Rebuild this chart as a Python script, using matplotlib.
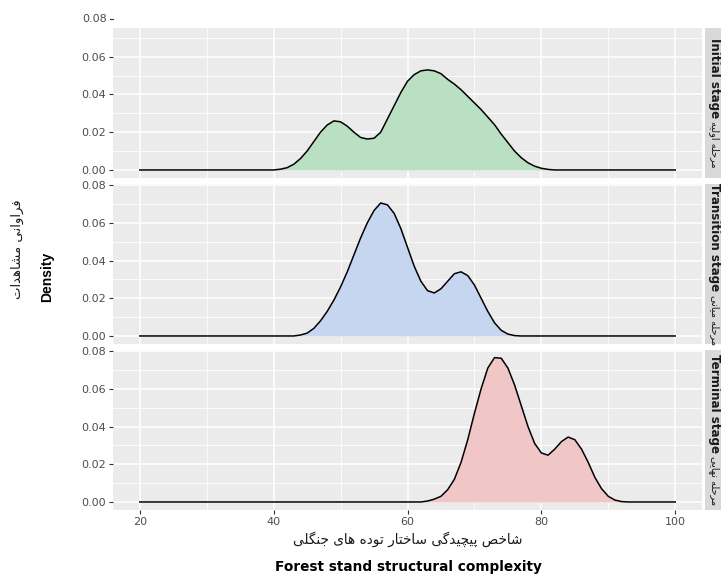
import matplotlib
matplotlib.use("Agg")
import matplotlib.pyplot as plt
from matplotlib.ticker import MultipleLocator, FormatStrFormatter

# ---------------- data ----------------
stages_en = ["Initial stage", "Transition stage", "Terminal stage"]
stages_fa = ["مرحله اولیه", "مرحله میانی", "مرحله نهایی"]
fill_colors = ["#b9e0c2", "#c6d6f1", "#f0c6c6"]

initial_x = [20, 40, 41, 42, 43, 44, 45, 46, 47, 48, 49, 50, 51, 52, 53, 54, 55, 56, 57,
             58, 59, 60, 61, 62, 63, 64, 65, 66, 67, 68, 69, 70, 71, 72, 73, 74, 75, 76,
             77, 78, 79, 80, 81, 82, 100]
initial_y = [0, 0, 0.0004, 0.0012, 0.003, 0.006, 0.010, 0.015, 0.020, 0.0238, 0.026,
             0.0255, 0.0232, 0.020, 0.0172, 0.0164, 0.0168, 0.020, 0.027, 0.034, 0.041,
             0.047, 0.0505, 0.0525, 0.053, 0.0525, 0.051, 0.048, 0.0455, 0.0425, 0.039,
             0.0355, 0.032, 0.028, 0.024, 0.019, 0.0145, 0.010, 0.0065, 0.0038, 0.002,
             0.0009, 0.0003, 0, 0]

transition_x = [20, 43, 44, 45, 46, 47, 48, 49, 50, 51, 52, 53, 54, 55, 56, 57, 58, 59,
                60, 61, 62, 63, 64, 65, 66, 67, 68, 69, 70, 71, 72, 73, 74, 75, 76, 77, 100]
transition_y = [0, 0, 0.0005, 0.0015, 0.004, 0.008, 0.013, 0.019, 0.026, 0.034, 0.043,
                0.052, 0.060, 0.0665, 0.0705, 0.0695, 0.065, 0.057, 0.047, 0.037, 0.029,
                0.024, 0.0228, 0.025, 0.029, 0.033, 0.034, 0.032, 0.027, 0.020, 0.013,
                0.007, 0.003, 0.001, 0.0002, 0, 0]

terminal_x = [20, 62, 63, 64, 65, 66, 67, 68, 69, 70, 71, 72, 73, 74, 75, 76, 77, 78, 79,
              80, 81, 82, 83, 84, 85, 86, 87, 88, 89, 90, 91, 92, 93, 100]
terminal_y = [0, 0, 0.0005, 0.0015, 0.003, 0.0065, 0.012, 0.021, 0.033, 0.047, 0.060,
              0.071, 0.0765, 0.0762, 0.071, 0.062, 0.051, 0.040, 0.031, 0.026, 0.0248,
              0.028, 0.032, 0.0344, 0.033, 0.028, 0.021, 0.013, 0.007, 0.003, 0.001,
              0.0002, 0, 0]

x_ticks = [20, 40, 60, 80, 100]
y_ticks = [0.00, 0.02, 0.04, 0.06, 0.08]

ylabel_fa = "فراوانی مشاهدات"
ylabel_en = "Density"
xlabel_fa = "شاخص پیچیدگی ساختار توده های جنگلی"
xlabel_en = "Forest stand structural complexity"

# ------------- simple Persian shaping (matplotlib has no shaping) -------------
FORMS = {
    'ا': ('\uFE8D', '\uFE8E', None, None),
    'د': ('\uFEA9', '\uFEAA', None, None),
    'ر': ('\uFEAD', '\uFEAE', None, None),
    'و': ('\uFEED', '\uFEEE', None, None),
    'ت': ('\uFE95', '\uFE96', '\uFE97', '\uFE98'),
    'ج': ('\uFE9D', '\uFE9E', '\uFE9F', '\uFEA0'),
    'ح': ('\uFEA1', '\uFEA2', '\uFEA3', '\uFEA4'),
    'خ': ('\uFEA5', '\uFEA6', '\uFEA7', '\uFEA8'),
    'س': ('\uFEB1', '\uFEB2', '\uFEB3', '\uFEB4'),
    'ش': ('\uFEB5', '\uFEB6', '\uFEB7', '\uFEB8'),
    'ص': ('\uFEB9', '\uFEBA', '\uFEBB', '\uFEBC'),
    'ف': ('\uFED1', '\uFED2', '\uFED3', '\uFED4'),
    'ل': ('\uFEDD', '\uFEDE', '\uFEDF', '\uFEE0'),
    'م': ('\uFEE1', '\uFEE2', '\uFEE3', '\uFEE4'),
    'ن': ('\uFEE5', '\uFEE6', '\uFEE7', '\uFEE8'),
    'ه': ('\uFEE9', '\uFEEA', '\uFEEB', '\uFEEC'),
    'ی': ('\uFBFC', '\uFBFD', '\uFBFE', '\uFBFF'),
    'پ': ('\uFB56', '\uFB57', '\uFB58', '\uFB59'),
    'چ': ('\uFB7A', '\uFB7B', '\uFB7C', '\uFB7D'),
    'گ': ('\uFB92', '\uFB93', '\uFB94', '\uFB95'),
    'ک': ('\uFB8E', '\uFB8F', '\uFB90', '\uFB91'),
}


def shape(text):
    out = []
    n = len(text)
    for i, c in enumerate(text):
        if c not in FORMS:
            out.append(c)
            continue
        prev = text[i - 1] if i > 0 else ''
        nxt = text[i + 1] if i < n - 1 else ''
        jp = prev in FORMS and FORMS[prev][2] is not None
        jn = FORMS[c][2] is not None and nxt in FORMS
        iso, fin, ini, med = FORMS[c]
        if jp and jn:
            out.append(med)
        elif jp:
            out.append(fin)
        elif jn:
            out.append(ini)
        else:
            out.append(iso)
    return ''.join(out)[::-1]


FA_FONT = ['DejaVu Sans']
EN_FONT = ['DejaVu Sans']

# ---------------- figure ----------------
W, H = 721, 576
fig = plt.figure(figsize=(W / 100, H / 100), dpi=100)
fig.patch.set_facecolor("white")

L_PX, R_PX = 113, 702
# (top_px, bottom_px, ylim)
panels = [
    (28.0, 177.9, (-0.0042, 0.0752)),
    (184.1, 343.9, (-0.0042, 0.0805)),
    (350.1, 509.9, (-0.0042, 0.0805)),
]
series = [(initial_x, initial_y), (transition_x, transition_y), (terminal_x, terminal_y)]

tick_col = "#4D4D4D"
axes = []
for i, ((top, bot, ylim), (xs, ys)) in enumerate(zip(panels, series)):
    ax = fig.add_axes([L_PX / W, 1 - bot / H, (R_PX - L_PX) / W, (bot - top) / H])
    ax.set_facecolor("#EBEBEB")
    for s in ax.spines.values():
        s.set_visible(False)
    ax.set_xlim(16, 104)
    ax.set_ylim(*ylim)
    ax.set_xticks(x_ticks)
    ax.set_yticks([t for t in y_ticks if t <= ylim[1]])
    ax.xaxis.set_minor_locator(MultipleLocator(10))
    ax.yaxis.set_minor_locator(MultipleLocator(0.01))
    ax.yaxis.set_major_formatter(FormatStrFormatter('%.2f'))
    ax.grid(which='major', color='white', lw=1.1)
    ax.grid(which='minor', color='white', lw=0.55)
    ax.set_axisbelow(True)
    ax.tick_params(which='minor', length=0)
    ax.tick_params(which='major', length=3, width=0.8, color='#333333',
                   labelsize=8, labelcolor=tick_col, pad=2)
    if i < 2:
        ax.tick_params(axis='x', which='both', length=0, labelbottom=False)
    ax.fill_between(xs, ys, 0, color=fill_colors[i], lw=0, zorder=2)
    ax.plot(xs, ys, color='black', lw=1.1, zorder=3, solid_joinstyle='round')
    axes.append(ax)

# tick label 0.08 of top panel lies above its (cropped) panel
ax0 = axes[0]
tr = ax0.get_yaxis_transform()
ax0.plot([-0.0055, 0], [0.08, 0.08], transform=tr, color='#333333', lw=0.8, clip_on=False)
ax0.text(-0.0095, 0.08, "%.2f" % y_ticks[-1], transform=tr, ha='right', va='center',
         fontsize=8, color=tick_col, clip_on=False)

# ---------------- strips ----------------
fig.canvas.draw()
renderer = fig.canvas.get_renderer()
for i, (top, bot, _) in enumerate(panels):
    sax = fig.add_axes([705 / W, 1 - bot / H, 30 / W, (bot - top) / H])
    sax.set_facecolor("#D9D9D9")
    sax.set_xticks([])
    sax.set_yticks([])
    for s in sax.spines.values():
        s.set_visible(False)
    base_x = 711.5
    te = fig.text(base_x / W, 0.5, stages_en[i], rotation=-90, rotation_mode='anchor',
                  ha='left', va='baseline', fontsize=8.6, fontweight='bold',
                  color='#1A1A1A', family=EN_FONT)
    tp = fig.text(base_x / W, 0.5, shape(stages_fa[i]), rotation=-90, rotation_mode='anchor',
                  ha='right', va='baseline', fontsize=7, color='#1A1A1A', family=FA_FONT)
    le = te.get_window_extent(renderer).height
    lp = tp.get_window_extent(renderer).height
    gap = 3
    total = le + gap + lp
    center = (top + bot) / 2
    start = center - total / 2
    te.set_position((base_x / W, 1 - start / H))
    tp.set_position((base_x / W, 1 - (start + total) / H))

# ---------------- axis titles ----------------
fig.text(17 / W, 1 - 249 / H, shape(ylabel_fa), rotation=90, ha='center', va='center',
         fontsize=9.5, color='#1A1A1A', family=FA_FONT)
fig.text(47 / W, 1 - 277 / H, ylabel_en, rotation=90, ha='center', va='center',
         fontsize=10, fontweight='bold', color='black', family=['Liberation Sans', 'DejaVu Sans'])
fig.text(408 / W, 1 - 539 / H, shape(xlabel_fa), ha='center', va='center',
         fontsize=9.8, color='#1A1A1A', family=FA_FONT)
fig.text(408 / W, 1 - 567 / H, xlabel_en, ha='center', va='center',
         fontsize=9.8, fontweight='bold', color='black', family=EN_FONT)

fig.savefig("out.png", dpi=100)
